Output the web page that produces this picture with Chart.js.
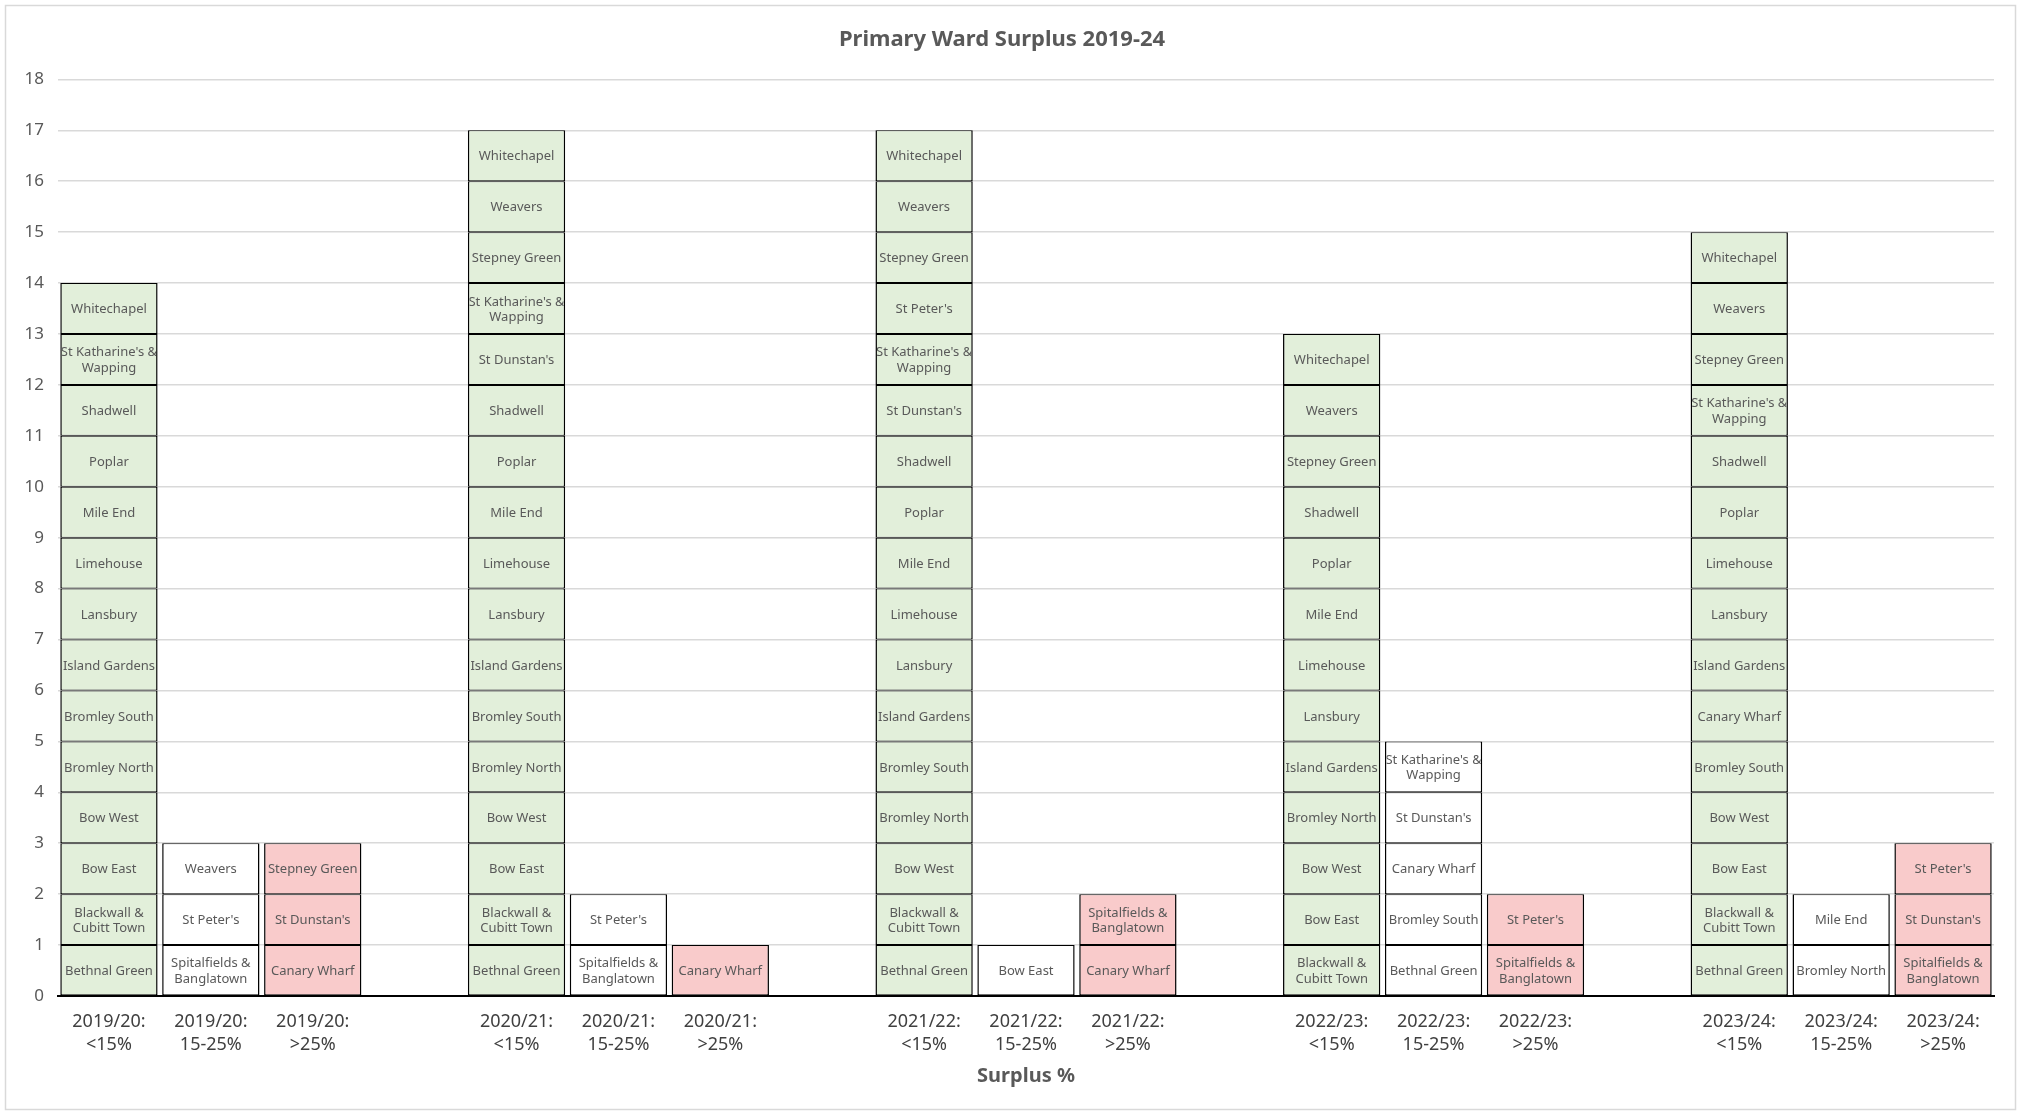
<!DOCTYPE html>
<html>
<head>
<meta charset="utf-8">
<script src="https://cdn.jsdelivr.net/npm/chart.js@4.4.1/dist/chart.umd.min.js"></script>
<style>
  html, body { margin: 0; padding: 0; background: #ffffff; }
  #wrap { position: relative; width: 2021px; height: 1112px; }
</style>
</head>
<body>
<div id="wrap"><canvas id="c"></canvas></div>
<script>
// ---------------- DATA ----------------
const years = ["2019/20", "2020/21", "2021/22", "2022/23", "2023/24"];
const bands = ["<15%", "15-25%", ">25%"];
const yTicks = [0,1,2,3,4,5,6,7,8,9,10,11,12,13,14,15,16,17,18];

// wards listed bottom to top of each stacked bar (each ward counts 1)
const w2019_lt15 = ["Bethnal Green", "Blackwall &\nCubitt Town", "Bow East", "Bow West", "Bromley North", "Bromley South", "Island Gardens", "Lansbury", "Limehouse", "Mile End", "Poplar", "Shadwell", "St Katharine's &\nWapping", "Whitechapel"];
const w2019_mid  = ["Spitalfields &\nBanglatown", "St Peter's", "Weavers"];
const w2019_gt25 = ["Canary Wharf", "St Dunstan's", "Stepney Green"];

const w2020_lt15 = ["Bethnal Green", "Blackwall &\nCubitt Town", "Bow East", "Bow West", "Bromley North", "Bromley South", "Island Gardens", "Lansbury", "Limehouse", "Mile End", "Poplar", "Shadwell", "St Dunstan's", "St Katharine's &\nWapping", "Stepney Green", "Weavers", "Whitechapel"];
const w2020_mid  = ["Spitalfields &\nBanglatown", "St Peter's"];
const w2020_gt25 = ["Canary Wharf"];

const w2021_lt15 = ["Bethnal Green", "Blackwall &\nCubitt Town", "Bow West", "Bromley North", "Bromley South", "Island Gardens", "Lansbury", "Limehouse", "Mile End", "Poplar", "Shadwell", "St Dunstan's", "St Katharine's &\nWapping", "St Peter's", "Stepney Green", "Weavers", "Whitechapel"];
const w2021_mid  = ["Bow East"];
const w2021_gt25 = ["Canary Wharf", "Spitalfields &\nBanglatown"];

const w2022_lt15 = ["Blackwall &\nCubitt Town", "Bow East", "Bow West", "Bromley North", "Island Gardens", "Lansbury", "Limehouse", "Mile End", "Poplar", "Shadwell", "Stepney Green", "Weavers", "Whitechapel"];
const w2022_mid  = ["Bethnal Green", "Bromley South", "Canary Wharf", "St Dunstan's", "St Katharine's &\nWapping"];
const w2022_gt25 = ["Spitalfields &\nBanglatown", "St Peter's"];

const w2023_lt15 = ["Bethnal Green", "Blackwall &\nCubitt Town", "Bow East", "Bow West", "Bromley South", "Canary Wharf", "Island Gardens", "Lansbury", "Limehouse", "Poplar", "Shadwell", "St Katharine's &\nWapping", "Stepney Green", "Weavers", "Whitechapel"];
const w2023_mid  = ["Bromley North", "Mile End"];
const w2023_gt25 = ["Spitalfields &\nBanglatown", "St Dunstan's", "St Peter's"];

const wardsByYear = [
  [w2019_lt15, w2019_mid, w2019_gt25],
  [w2020_lt15, w2020_mid, w2020_gt25],
  [w2021_lt15, w2021_mid, w2021_gt25],
  [w2022_lt15, w2022_mid, w2022_gt25],
  [w2023_lt15, w2023_mid, w2023_gt25]
];

const bandColors = ["#E2EFDA", "#FFFFFF", "#F9CBCB"];

// ---------------- BUILD ----------------
const catLabels = [];
const catLists = [];
const catBand = [];
years.forEach((yr, yi) => {
  bands.forEach((b, bi) => {
    catLabels.push([yr + ":", b]);
    catLists.push(wardsByYear[yi][bi]);
    catBand.push(bi);
  });
  if (yi < years.length - 1) {
    catLabels.push("");
    catLists.push([]);
    catBand.push(-1);
  }
});
const maxLevel = Math.max(...catLists.map(l => l.length));
const datasets = [];
for (let lvl = 0; lvl < maxLevel; lvl++) {
  datasets.push({
    label: "Level " + (lvl + 1),
    data: catLists.map(l => (l.length > lvl ? 1 : null)),
    names: catLists.map(l => l[lvl] || null),
    backgroundColor: catBand.map(b => (b >= 0 ? bandColors[b] : "#FFFFFF")),
    borderColor: "#000000",
    borderWidth: { top: 1, bottom: 1, left: 1.5, right: 1.5 },
    borderSkipped: false,
    barPercentage: 0.955,
    categoryPercentage: 1.0
  });
}

const FONT = "'Noto Sans', 'Open Sans', sans-serif";
const GREY = "#595959";

const frame = {
  id: "frame",
  beforeDraw(chart) {
    const ctx = chart.ctx;
    ctx.save();
    ctx.fillStyle = "#ffffff";
    ctx.fillRect(0, 0, chart.width, chart.height);
    ctx.strokeStyle = "#d9d9d9";
    ctx.lineWidth = 1.5;
    ctx.strokeRect(5.5, 5.5, chart.width - 11, chart.height - 8);
    ctx.restore();
  }
};

const segLabels = {
  id: "segLabels",
  afterDatasetsDraw(chart) {
    const ctx = chart.ctx;
    chart.data.datasets.forEach((ds, di) => {
      const meta = chart.getDatasetMeta(di);
      meta.data.forEach((bar, i) => {
        const name = ds.names[i];
        if (!name) return;
        const p = bar.getProps(["x", "y", "base", "width"], true);
        const top = Math.min(p.y, p.base), h = Math.abs(p.base - p.y);
        ctx.save();
        ctx.beginPath();
        ctx.rect(p.x - p.width / 2 + 1.5, top, p.width - 3, h);
        ctx.clip();
        ctx.fillStyle = GREY;
        ctx.font = "13px " + FONT;
        ctx.textAlign = "center";
        ctx.textBaseline = "middle";
        const lines = name.split("\n");
        const lh = 15.5;
        const cy = top + h / 2 + 1;
        lines.forEach((ln, k) => {
          ctx.fillText(ln, p.x, cy + (k - (lines.length - 1) / 2) * lh);
        });
        ctx.restore();
      });
    });
  }
};

new Chart(document.getElementById("c"), {
  type: "bar",
  data: { labels: catLabels, datasets: datasets },
  options: {
    responsive: true,
    maintainAspectRatio: false,
    animation: false,
    layout: { padding: { left: 10, right: 27, top: 0, bottom: 0 } },
    plugins: {
      legend: { display: false },
      tooltip: { enabled: false },
      title: {
        display: true,
        text: "Primary Ward Surplus 2019-24",
        color: GREY,
        font: { family: FONT, size: 22, weight: "bold" },
        padding: { top: 26.5, bottom: 26.5 }
      }
    },
    scales: {
      x: {
        stacked: true,
        grid: { display: false, drawTicks: false },
        border: { display: true, color: "#000000", width: 2 },
        ticks: {
          color: "#404040",
          font: { family: FONT, size: 18, lineHeight: 1.3 },
          padding: 14,
          maxRotation: 0,
          autoSkip: false
        },
        title: {
          display: true,
          text: "Surplus %",
          color: GREY,
          font: { family: FONT, size: 20, weight: "bold" },
          padding: { top: 4, bottom: 24 }
        },
        afterFit(scale) { scale.height = 116; }
      },
      y: {
        stacked: true,
        min: 0,
        max: 18,
        afterBuildTicks(scale) { scale.ticks = yTicks.map(v => ({ value: v })); },
        grid: { color: "#d9d9d9", lineWidth: 1.5, drawTicks: false },
        border: { display: false },
        ticks: {
          color: GREY,
          font: { family: FONT, size: 17 },
          padding: 14
        },
        afterFit(scale) { scale.width = 48; }
      }
    }
  },
  plugins: [frame, segLabels]
});
</script>
</body>
</html>
